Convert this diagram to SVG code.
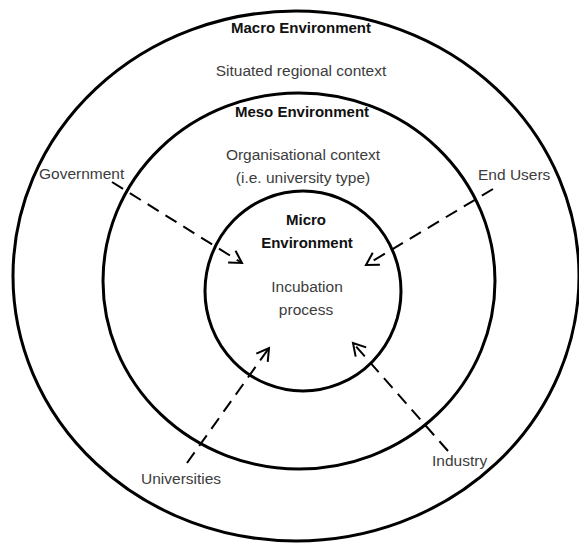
<svg xmlns="http://www.w3.org/2000/svg" width="579" height="543" viewBox="0 0 579 543">
<style>
.ring{fill:none;stroke:#000;stroke-width:3}
.t{font-family:"Liberation Sans",Arial,sans-serif;font-size:15.5px;fill:#3c3c3c}
.b{font-family:"Liberation Sans",Arial,sans-serif;font-size:15px;font-weight:bold;fill:#111}
.c{text-anchor:middle}
.arr{fill:none;stroke:#000;stroke-width:2;stroke-dasharray:13 8;marker-end:url(#head)}
</style>
<defs>
<marker id="head" markerUnits="userSpaceOnUse" markerWidth="20" markerHeight="20" viewBox="-14 -10 16 20" refX="0" refY="0" orient="auto">
<path d="M -12 -7 L 0 0 L -12 7" fill="none" stroke="#000" stroke-width="2" stroke-dasharray="none"/>
</marker>
</defs>
<rect width="579" height="543" fill="#fff"/>
<g id="macro">
<ellipse class="ring" cx="296" cy="276" rx="283" ry="265"/>
<text class="b c" x="301" y="33">Macro Environment</text>
<text class="t c" x="301" y="76">Situated regional context</text>
</g>
<g id="meso">
<ellipse class="ring" cx="299" cy="281" rx="196" ry="188"/>
<text class="b c" x="302" y="117">Meso Environment</text>
<text class="t c" x="303" y="160">Organisational context</text>
<text class="t c" x="303" y="183">(i.e. university type)</text>
</g>
<g id="micro">
<ellipse class="ring" cx="303" cy="291" rx="98" ry="100"/>
<text class="b c" x="306" y="225">Micro</text>
<text class="b c" x="307" y="248">Environment</text>
<text class="t c" x="307" y="292">Incubation</text>
<text class="t c" x="306" y="315">process</text>
</g>
<g id="government"><text class="t" x="39" y="179">Government</text></g>
<g id="end-users"><text class="t" x="478" y="180">End Users</text></g>
<g id="universities"><text class="t" x="141" y="484">Universities</text></g>
<g id="industry"><text class="t" x="432" y="466">Industry</text></g>
<g id="connectors">
<line class="arr" x1="112" y1="182" x2="242" y2="263"/>
<line class="arr" x1="493" y1="189" x2="366" y2="265"/>
<line class="arr" x1="187" y1="463" x2="269" y2="348"/>
<line class="arr" x1="448" y1="451" x2="353" y2="343"/>
</g>
</svg>
